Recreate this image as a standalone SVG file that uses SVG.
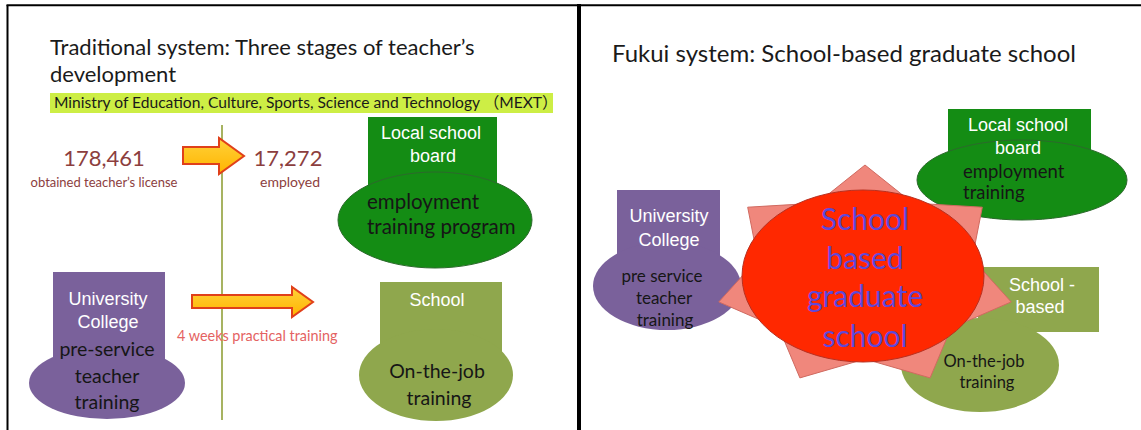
<svg xmlns="http://www.w3.org/2000/svg" width="1141" height="430" viewBox="0 0 1141 430">
<defs>
<style>
.frame{stroke:#000;fill:none}
.title{font-family:Lato,"Noto Sans",sans-serif;font-size:22px;fill:#1a1a1a}
.title2{font-family:Lato,"Noto Sans",sans-serif;font-size:24px;fill:#1a1a1a}
.lab{font-family:"Liberation Sans",Arial,sans-serif;font-size:18px;fill:#fff;text-anchor:middle}
.body{font-family:Lato,"Noto Sans",sans-serif;fill:#161616}
.num{font-family:Lato,"Noto Sans",sans-serif;fill:#8c3e3e;text-anchor:middle}
.big{font-family:Lato,"Noto Sans",sans-serif;font-size:30px;fill:#5e48da;text-anchor:middle}
.arrow{fill:url(#ag);stroke:#e0401a;stroke-width:2;stroke-linejoin:miter}
</style>
<linearGradient id="ag" x1="0" y1="0" x2="0" y2="1">
<stop offset="0" stop-color="#ffd23a"/>
<stop offset="1" stop-color="#ffb400"/>
</linearGradient>
</defs>
<rect width="1141" height="430" fill="#fff"/>
<g id="frame">
<line class="frame" x1="7.5" y1="5" x2="7.5" y2="430" stroke-width="2"/>
<line class="frame" x1="6.5" y1="5.3" x2="1141" y2="5.3" stroke-width="2"/>
<line class="frame" x1="579" y1="4" x2="579" y2="430" stroke-width="4"/>
</g>
<g id="left-title">
<text class="title" x="50" y="55">Traditional system: Three stages of teacher’s</text>
<text class="title" x="50" y="82">development</text>
</g>
<g id="mext">
<rect x="50" y="93" width="503" height="20" fill="#cdee45"/>
<text x="54" y="108" font-family="Lato,'Noto Sans CJK JP',sans-serif" font-size="15.6" fill="#1a1a1a">Ministry of Education, Culture, Sports, Science and Technology （MEXT）</text>
</g>
<g id="timeline">
<line x1="222" y1="125" x2="222" y2="420" stroke="#8a9a2c" stroke-width="1.5"/>
</g>
<g id="licensed">
<text class="num" x="104" y="166" font-size="22">178,461</text>
<text class="num" x="104" y="187" font-size="13">obtained teacher’s license</text>
</g>
<g id="employed">
<text class="num" x="288" y="166" font-size="22">17,272</text>
<text class="num" x="290" y="187" font-size="14">employed</text>
</g>
<g id="local-board-left">
<rect x="368" y="117" width="129" height="90" fill="#148c14"/>
<ellipse cx="435" cy="220" rx="97" ry="48" fill="#148c14" stroke="#2c6a2c" stroke-width="1"/>
<text class="lab" x="431" y="139">Local school</text>
<text class="lab" x="433" y="162">board</text>
<text class="body" x="367" y="209" font-size="20.5">employment</text>
<text class="body" x="367" y="234" font-size="20.5">training program</text>
</g>
<g id="university-left">
<rect x="53" y="272" width="112" height="90" fill="#7a619b"/>
<ellipse cx="107" cy="383" rx="78" ry="36" fill="#7a619b"/>
<text class="lab" x="108" y="305">University</text>
<text class="lab" x="108" y="328">College</text>
<text class="body" x="107" y="356" font-size="19.5" text-anchor="middle" fill="#1b1230">pre-service</text>
<text class="body" x="107" y="383" font-size="19.5" text-anchor="middle" fill="#1b1230">teacher</text>
<text class="body" x="107" y="409" font-size="19.5" text-anchor="middle" fill="#1b1230">training</text>
</g>
<g id="school-left">
<rect x="380" y="282" width="122" height="70" fill="#8fa74d"/>
<ellipse cx="436" cy="375" rx="77" ry="46" fill="#8fa74d"/>
<text class="lab" x="437" y="306">School</text>
<text class="body" x="437" y="378" font-size="19.5" text-anchor="middle">On-the-job</text>
<text class="body" x="439" y="405" font-size="19.5" text-anchor="middle">training</text>
</g>
<g id="connectors">
<path class="arrow" d="M183,147 L219,147 L219,138 L244,156 L219,174 L219,164 L183,164 Z"/>
<path class="arrow" d="M192,295 L292,295 L292,287 L313,302 L292,317 L292,308 L192,308 Z"/>
<text x="177" y="341" font-family="Lato,'Noto Sans',sans-serif" font-size="14.4" fill="#e46262">4 weeks practical training</text>
</g>
<g id="right-title">
<text class="title2" x="612" y="62">Fukui system: School-based graduate school</text>
</g>
<g id="local-board-right">
<rect x="948" y="109" width="143" height="60" fill="#148c14"/>
<ellipse cx="1022" cy="180" rx="105" ry="40" fill="#148c14" stroke="#2c6a2c" stroke-width="1"/>
<text class="lab" x="1018" y="131">Local school</text>
<text class="lab" x="1018" y="154">board</text>
<text class="body" x="963" y="178" font-size="18.5">employment</text>
<text class="body" x="963" y="199" font-size="18.5">training</text>
</g>
<g id="university-right">
<rect x="617" y="190" width="103" height="70" fill="#7a619b"/>
<ellipse cx="667" cy="286" rx="74" ry="44" fill="#7a619b"/>
<text class="lab" x="669" y="222">University</text>
<text class="lab" x="669" y="246">College</text>
<text class="body" x="662" y="282" font-size="17" text-anchor="middle" fill="#1b1230">pre service</text>
<text class="body" x="664" y="304" font-size="17" text-anchor="middle" fill="#1b1230">teacher</text>
<text class="body" x="665" y="326" font-size="17" text-anchor="middle" fill="#1b1230">training</text>
</g>
<g id="school-based">
<rect x="978" y="267" width="121" height="65" fill="#8fa74d"/>
<ellipse cx="980" cy="365" rx="79" ry="47" fill="#8fa74d"/>
<text class="lab" x="1042" y="291">School -</text>
<text class="lab" x="1040" y="313">based</text>
<text class="body" x="984" y="367" font-size="16.5" text-anchor="middle">On-the-job</text>
<text class="body" x="987" y="388" font-size="16.5" text-anchor="middle">training</text>
</g>
<g id="graduate-school">
<polygon points="865,165 912.7,203.1 982.3,207.2 972.2,258.8 1011.2,301.9 951,328.1 930.1,377.9 865,359 799.9,377.9 779,328.1 718.8,301.9 757.8,258.8 747.7,207.2 817.3,203.1" fill="#f0877c" stroke="#d06a60" stroke-width="1"/>
<ellipse cx="863" cy="276" rx="121" ry="86" fill="#ff2800" stroke="#b83020" stroke-width="1"/>
<text class="big" x="865" y="230">School</text>
<text class="big" x="865" y="269">based</text>
<text class="big" x="865" y="307">graduate</text>
<text class="big" x="865" y="347">school</text>
</g>
</svg>
